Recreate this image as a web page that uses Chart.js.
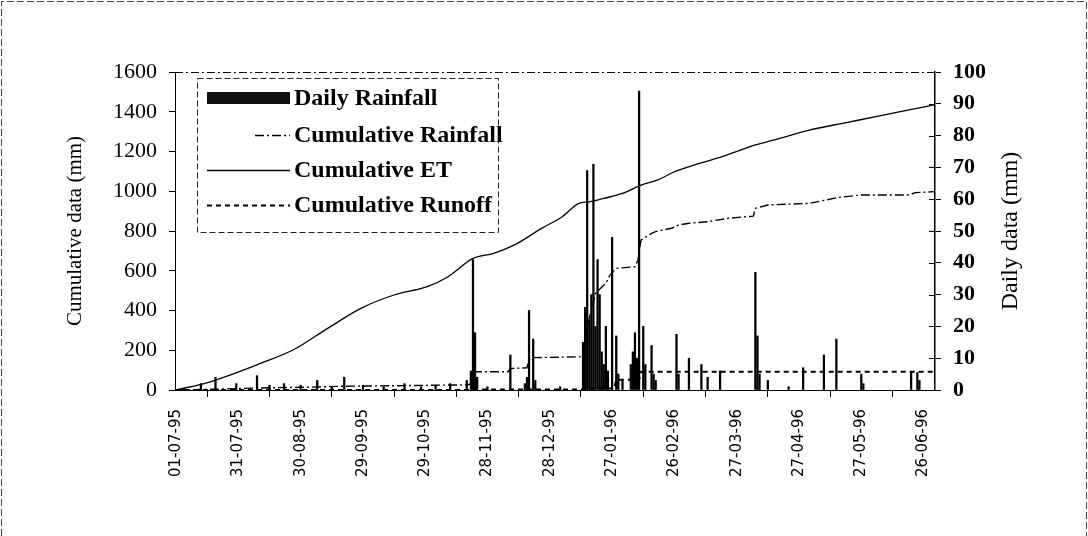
<!DOCTYPE html>
<html>
<head>
<meta charset="utf-8">
<script src="https://cdn.jsdelivr.net/npm/chart.js@4.4.0/dist/chart.umd.min.js"></script>
<style>
  html, body { margin: 0; padding: 0; background: #fff; }
</style>
</head>
<body>
<canvas id="chart" width="1088" height="536"></canvas>
<script>
// days are counted from 01-07-95 (day 0)
var tickDays = [0, 30, 60, 90, 120, 150, 180, 210, 240, 270, 300, 330, 360];
var tickLabels = ["01-07-95", "31-07-95", "30-08-95", "29-09-95", "29-10-95", "28-11-95",
  "28-12-95", "27-01-96", "26-02-96", "27-03-96", "27-04-96", "27-05-96", "26-06-96"];

// daily rainfall (mm), right axis
var rainDays = [12, 19, 29, 39, 45, 52, 60, 68, 75, 81, 90, 100, 110, 118, 125, 132, 140, 142, 143, 144,
  145, 150, 161, 168, 169, 170, 172, 173, 185, 196, 197, 198, 199, 200, 201, 202, 203, 204, 205, 206,
  207, 208, 210, 212, 213, 215, 219, 220, 221, 222, 223, 225, 226, 229, 230, 231, 241, 242, 247, 253,
  256, 262, 279, 280, 281, 285, 295, 302, 312, 318, 330, 331, 354, 357, 358];
var rainMm = [2, 4, 2, 4.5, 1.5, 2, 1.5, 3, 1, 4, 1.5, 1, 2, 1, 1.5, 2, 3, 6, 41, 18,
  4, 1, 11, 2, 4, 25, 16, 3, 1, 15, 26, 69, 22, 30, 71, 20, 41, 30, 12, 8,
  20, 6, 48, 17, 5, 3, 8, 12, 18, 10, 94, 20, 8, 14, 5, 3, 17.5, 5, 10, 8,
  4, 6, 37, 17, 5, 3, 1, 7, 11, 16, 5, 2, 5.5, 5.5, 3];

// cumulative series (mm), left axis
var cumRainDays = [0, 19, 39, 68, 81, 110, 140, 142, 144, 160, 161, 169, 170, 172, 196, 198, 202, 207,
  209, 212, 221, 222.5, 223.5, 224, 229, 231, 239, 242, 247, 256, 266, 278, 279, 285, 305, 313, 319,
  330, 353, 356, 365];
var cumRainMm = [0, 4, 10, 15, 19, 22, 26, 30, 92, 92, 108, 112, 150, 163, 167, 318, 486, 538,
  578, 612, 620, 654, 730, 755, 788, 797, 815, 830, 839, 847, 864, 875, 914, 931, 939, 956, 969,
  981, 981, 993, 998];

var etDays = [0, 16, 41, 57, 73, 89, 105, 121, 131, 143, 153, 163, 176, 186, 194, 199, 206, 215, 224,
  232, 240, 252, 263, 279, 288, 305, 321, 337, 353, 365];
var etMm = [0, 40, 135, 205, 310, 411, 478, 520, 570, 662, 688, 730, 813, 872, 939, 947, 964, 989, 1031,
  1057, 1098, 1140, 1174, 1233, 1258, 1308, 1342, 1375, 1409, 1435];

var runoffDays = [0, 143, 144, 197, 198, 211, 212, 223, 224, 365];
var runoffMm = [0, 0, 3, 3, 8, 8, 52, 52, 92, 92];

function pairs(xs, ys) {
  return xs.map(function (x, i) { return { x: x, y: ys[i] }; });
}

var serif = "'Liberation Serif', 'Times New Roman', serif";

// legend box, plot frame, right axis details
var decor = {
  id: "decor",
  beforeDraw: function (chart) {
    var ctx = chart.ctx;
    ctx.save();
    ctx.fillStyle = "#fff";
    ctx.fillRect(0, 0, chart.width, chart.height);
    ctx.strokeStyle = "#444";
    ctx.lineWidth = 1;
    ctx.setLineDash([7, 3]);
    ctx.beginPath();
    ctx.moveTo(1.5, 536); ctx.lineTo(1.5, 1.5); ctx.lineTo(1086.5, 1.5); ctx.lineTo(1086.5, 536);
    ctx.stroke();
    ctx.restore();
  },
  afterDraw: function (chart) {
    var ctx = chart.ctx, a = chart.chartArea, y1 = chart.scales.y1;
    ctx.save();
    // dashed top edge of the plot area
    ctx.strokeStyle = "#000";
    ctx.lineWidth = 1;
    ctx.setLineDash([8, 3, 2, 3]);
    ctx.beginPath();
    ctx.moveTo(a.left, a.top + 0.5); ctx.lineTo(a.right, a.top + 0.5);
    ctx.stroke();
    // right axis ticks cross the axis line
    ctx.setLineDash([]);
    ctx.beginPath();
    y1.ticks.forEach(function (t) {
      var py = Math.round(y1.getPixelForValue(t.value)) + 0.5;
      ctx.moveTo(a.right - 6, py); ctx.lineTo(a.right, py);
    });
    ctx.stroke();
    // right axis title, reading bottom to top
    ctx.fillStyle = "#000";
    ctx.font = "24px " + serif;
    ctx.textAlign = "center";
    ctx.textBaseline = "middle";
    ctx.translate(1011, (a.top + a.bottom) / 2);
    ctx.rotate(-Math.PI / 2);
    ctx.fillText("Daily data (mm)", 0, 0);
    ctx.setTransform(1, 0, 0, 1, 0, 0);

    // legend
    var ds = chart.data.datasets;
    ctx.setLineDash([6, 3]);
    ctx.strokeStyle = "#222";
    ctx.strokeRect(197.5, 78.5, 301, 154);
    ctx.font = "bold 24px " + serif;
    ctx.textAlign = "left";
    var rows = [98, 135, 170, 205];
    ds.forEach(function (d, i) {
      var ry = rows[i];
      ctx.setLineDash([]);
      if (d.type === "bar") {
        ctx.fillStyle = "#111";
        ctx.fillRect(207, ry - 6, 83, 12);
      } else {
        ctx.strokeStyle = "#000";
        ctx.lineWidth = d.borderWidth;
        ctx.setLineDash(d.borderDash || []);
        ctx.beginPath();
        ctx.moveTo(i === 1 ? 255 : 207, ry + 0.5); ctx.lineTo(290, ry + 0.5);
        ctx.stroke();
        ctx.setLineDash([]);
      }
      ctx.fillStyle = "#000";
      ctx.fillText(d.label, 294, ry + 1);
    });
    ctx.restore();
  }
};

new Chart(document.getElementById("chart").getContext("2d"), {
  data: {
    datasets: [
      {
        type: "bar",
        label: "Daily Rainfall",
        data: pairs(rainDays, rainMm),
        yAxisID: "y1",
        backgroundColor: "#000",
        barThickness: 1.6,
      },
      {
        type: "line",
        label: "Cumulative Rainfall",
        data: pairs(cumRainDays, cumRainMm),
        yAxisID: "y",
        borderColor: "#000",
        borderWidth: 1.4,
        borderDash: [9, 3, 2, 3],
        pointRadius: 0,
        tension: 0,
      },
      {
        type: "line",
        label: "Cumulative ET",
        data: pairs(etDays, etMm),
        yAxisID: "y",
        borderColor: "#000",
        borderWidth: 1.3,
        pointRadius: 0,
        cubicInterpolationMode: "monotone",
      },
      {
        type: "line",
        label: "Cumulative Runoff",
        data: pairs(runoffDays, runoffMm),
        yAxisID: "y",
        borderColor: "#000",
        borderWidth: 2,
        borderDash: [5, 4],
        pointRadius: 0,
        tension: 0,
      },
    ],
  },
  options: {
    responsive: false,
    animation: false,
    events: [],
    layout: { padding: { top: 72, left: 0, right: 0, bottom: 0 } },
    plugins: { legend: { display: false }, tooltip: { enabled: false } },
    scales: {
      x: {
        type: "linear",
        min: -0.5,
        max: 365.5,
        offset: false,
        afterBuildTicks: function (s) {
          s.ticks = tickDays.map(function (v) { return { value: v }; });
        },
        afterFit: function (s) { s.height = 146; },
        ticks: {
          autoSkip: false,
          minRotation: 90,
          maxRotation: 90,
          padding: 12,
          color: "#000",
          font: { family: "'DejaVu Sans', sans-serif", size: 15 },
          callback: function (v, i) { return tickLabels[i]; },
        },
        grid: { drawOnChartArea: false, tickLength: 7, color: "#000" },
        border: { color: "#000" },
      },
      y: {
        position: "left",
        min: 0,
        max: 1600,
        afterFit: function (s) { s.width = 175; },
        ticks: {
          stepSize: 200,
          padding: 12,
          color: "#000",
          font: { family: serif, size: 22 },
          callback: function (v) { return String(v); },
        },
        grid: { drawOnChartArea: false, tickLength: 6, color: "#000" },
        border: { color: "#000", dash: [7, 3] },
        title: {
          display: true,
          text: "Cumulative data (mm)",
          color: "#000",
          font: { family: serif, size: 21 },
          padding: { top: 63, bottom: 0 },
        },
      },
      y1: {
        position: "right",
        min: 0,
        max: 100,
        afterFit: function (s) { s.width = 153; },
        ticks: { stepSize: 10, padding: 12, color: "#000", font: { family: serif, size: 22, weight: "bold" } },
        grid: { drawOnChartArea: false, tickLength: 6, color: "#000" },
        border: { color: "#000", width: 1.5 },
      },
    },
  },
  plugins: [decor],
});
</script>
</body>
</html>
